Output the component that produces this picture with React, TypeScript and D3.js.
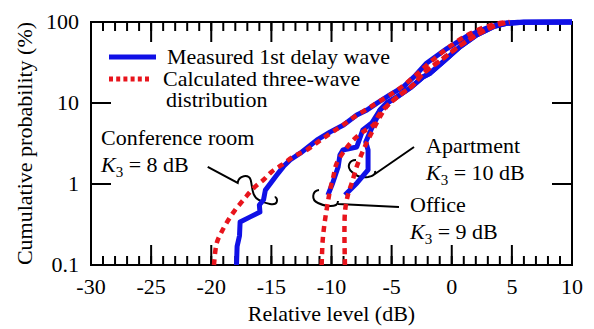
import * as d3 from 'd3';

// [relative level (dB), cumulative probability (%)]
type Pt = [number, number];

const conferenceMeasured: Pt[] = [
    [-17.9, 0.1], [-17.85, 0.17], [-17.65, 0.23], [-17.6, 0.34], [-16.8, 0.39],
    [-15.95, 0.45], [-16.0, 0.55], [-15.65, 0.64], [-15.5, 0.84], [-14.55, 1.29],
    [-14.0, 1.64], [-13.45, 1.98], [-12.6, 2.4], [-11.2, 3.5], [-10.1, 4.4],
    [-9.0, 5.35], [-7.9, 7.1], [-7.05, 8.2], [-6.25, 9.9], [-5.15, 12.6],
    [-4.0, 15.9], [-3.0, 22], [-2.1, 31], [-0.4, 47], [1.2, 66], [2.9, 84],
    [4.2, 96], [5.5, 99.5], [10, 100],
];

const conferenceCalculated: Pt[] = [
    [-19.77, 0.1], [-19.55, 0.185], [-19.13, 0.258], [-18.58, 0.359], [-18.02, 0.477],
    [-17.33, 0.635], [-16.5, 0.885], [-15.67, 1.12], [-14.97, 1.42], [-14.14, 1.72],
    [-13.18, 2.17], [-12.06, 2.63], [-11, 3.4], [-10, 4.3], [-9, 5.4], [-8, 6.9],
    [-7, 8.5], [-6, 10.5], [-5, 13], [-4, 16.5], [-3, 22], [-2, 30], [-1, 40],
    [0, 52], [1, 65], [2, 78], [3, 89], [4, 97], [4.8, 100],
];

const officeMeasured: Pt[] = [
    [-10.3, 0.73], [-9.9, 1.03], [-9.45, 1.62], [-9.3, 2.28], [-9.05, 2.63],
    [-7.9, 2.86], [-7.4, 4.64], [-6.65, 5.66], [-5.97, 8.2], [-5.4, 10],
    [-4.55, 11.9], [-3.47, 15.3], [-2.4, 20.9], [-1.8, 23.3], [-0.7, 32.4],
    [0.7, 49.5], [2.07, 69], [3.46, 87.5], [4.57, 96.4], [6, 99.5], [10, 100],
];

const officeCalculated: Pt[] = [
    [-10.82, 0.1], [-10.73, 0.204], [-10.54, 0.359], [-10.27, 0.635], [-10.12, 0.843],
    [-9.85, 1.23], [-9.57, 1.8], [-8.88, 2.63], [-8.19, 3.49], [-7.36, 4.42],
    [-6.52, 5.35], [-5.97, 7.46], [-5.14, 9.92], [-4.3, 12.6], [-3.2, 16.7],
    [-2.36, 23.3], [-1, 33], [0, 43], [1, 55], [2, 68], [3, 82], [4, 94], [4.8, 100],
];

const apartmentMeasured: Pt[] = [
    [-8.88, 0.73], [-7.88, 1.03], [-6.96, 1.49], [-6.96, 2.63], [-7.15, 3.3],
    [-6.65, 4.9], [-6.2, 6.7], [-5.97, 8.2], [-5.4, 10], [-4.55, 11.9],
    [-3.47, 15.3], [-2.4, 20.9], [-1.8, 23.3], [-0.7, 32.4], [0.7, 49.5],
    [2.07, 69], [3.46, 87.5], [4.57, 96.4], [6, 99.5], [10, 100],
];

const apartmentCalculated: Pt[] = [
    [-8.88, 0.1], [-8.88, 0.45], [-8.6, 0.768], [-8.32, 1.02], [-7.9, 1.64],
    [-7.35, 2.63], [-6.8, 3.91], [-6.11, 6.17], [-5.38, 9.18], [-4.3, 12.6],
    [-3.2, 16.7], [-2.36, 23.3], [-1, 33], [0, 43], [1, 55], [2, 68], [3, 82],
    [4, 94], [4.8, 100],
];

const measuredSeries = [conferenceMeasured, officeMeasured, apartmentMeasured];
const calculatedSeries = [conferenceCalculated, officeCalculated, apartmentCalculated];

const xMajorTicks = [-30, -25, -20, -15, -10, -5, 0, 5, 10];
const xMinorTicks = d3.range(-30, 11, 1);
const yTicks = [0.1, 1, 10, 100];

const legendLabels = ['Measured 1st delay wave', 'Calculated three-wave', 'distribution'];

// group labels: name, K3 value, anchor of the loop mark in data units
const groups = [
    { name: 'Conference room', k: '8', at: [-17.8, 1.03] as Pt, tx: 101, ty: 145,
      mark: 'M-30,-16 L0,0 C1,-8 11,-9 13,-3 C15,5 14,13 21,17 C28,21 38,23 39,19 C40,16 38,14 37,14' },
    { name: 'Apartment', k: '10', at: [-7.96, 1.98] as Pt, tx: 426, ty: 153,
      mark: 'M0,0 C-7,0 -10,7 -4,12 C0,16 6,18 12,17 C17,16 20,14 19,11 M16,16 L58,-13' },
    { name: 'Office', k: '9', at: [-11.04, 0.843] as Pt, tx: 410, ty: 212,
      mark: 'M0,0 C-7,1 -8,10 -1,13 C5,16 13,17 17,15 C19,14 19,12 19,11 M19,14 L80,17' },
];

const BLUE = '#1010e6';
const RED = '#e8141c';
const TXT = { fontFamily: 'Liberation Serif', fontSize: 22 };

const width = 594;
const height = 329;
const margin = { top: 22, right: 22, bottom: 64, left: 91 };

export default function App() {
    const x = d3.scaleLinear()
        .domain([-30, 10])
        .range([margin.left, width - margin.right]);

    const y = d3.scaleLog()
        .domain([0.1, 100])
        .range([height - margin.bottom, margin.top]);

    const top = margin.top;
    const bottom = height - margin.bottom;
    const left = margin.left;
    const right = width - margin.right;

    const lineMeasured = d3.line<Pt>()
        .x(d => x(d[0]))
        .y(d => y(d[1]));

    const lineCalc = d3.line<Pt>()
        .x(d => x(d[0]))
        .y(d => y(d[1]))
        .curve(d3.curveCatmullRom.alpha(0.5));

    return (
        <svg width={width} height={height} style={{ position: 'absolute', left: 0, top: 0, background: '#fff' }}>
            {/* ticks, pointing inwards */}
            <g stroke="#000" strokeWidth={2}>
                {xMinorTicks.map(t => (
                    <g key={'m' + t}>
                        <line x1={x(t)} x2={x(t)} y1={bottom} y2={bottom - 9} />
                        <line x1={x(t)} x2={x(t)} y1={top} y2={top + 9} />
                    </g>
                ))}
                {xMajorTicks.map(t => (
                    <g key={'M' + t}>
                        <line x1={x(t)} x2={x(t)} y1={bottom} y2={bottom - 20} />
                        <line x1={x(t)} x2={x(t)} y1={top} y2={top + 20} />
                    </g>
                ))}
                {yTicks.map(t => (
                    <g key={'y' + t}>
                        <line x1={left} x2={left + 20} y1={y(t)} y2={y(t)} />
                        <line x1={right} x2={right - 20} y1={y(t)} y2={y(t)} />
                    </g>
                ))}
                <rect x={left} y={top} width={right - left} height={bottom - top} fill="none" />
            </g>

            {xMajorTicks.map(t => (
                <text key={'xl' + t} x={x(t)} y={294} textAnchor="middle" style={TXT}>{t}</text>
            ))}
            {yTicks.map(t => (
                <text key={'yl' + t} x={left - 12} y={y(t)} dy="0.34em" textAnchor="end" style={TXT}>{String(t)}</text>
            ))}

            <text x={(left + right) / 2} y={321} textAnchor="middle" style={TXT}>Relative level (dB)</text>
            <text transform={`translate(32,${(top + bottom) / 2}) rotate(-90)`} textAnchor="middle" style={TXT}>
                Cumulative probability (%)
            </text>

            {/* loop marks go under the curves */}
            {groups.map(gr => (
                <path key={'mk' + gr.name} transform={`translate(${x(gr.at[0])},${y(gr.at[1])})`} d={gr.mark}
                    fill="none" stroke="#000" strokeWidth={2} />
            ))}

            {measuredSeries.map((s, i) => (
                <path key={'ms' + i} d={lineMeasured(s) ?? ''} fill="none" stroke={BLUE} strokeWidth={5} strokeLinejoin="round" />
            ))}
            {calculatedSeries.map((s, i) => (
                <path key={'cs' + i} d={lineCalc(s) ?? ''} fill="none" stroke={RED} strokeWidth={4.5} strokeDasharray="6,5" />
            ))}

            {groups.map(gr => (
                <g key={'lb' + gr.name}>
                    <text x={gr.tx} y={gr.ty} style={TXT}>{gr.name}</text>
                    <text x={gr.tx} y={gr.ty + 27} style={TXT}>
                        <tspan style={{ fontStyle: 'italic' }}>K</tspan>
                        <tspan dy={5} style={{ fontSize: 15 }}>3</tspan>
                        <tspan dy={-5}>{` = ${gr.k} dB`}</tspan>
                    </text>
                </g>
            ))}

            {/* legend */}
            <line x1={109} x2={156} y1={57} y2={57} stroke={BLUE} strokeWidth={5} />
            <line x1={109} x2={151} y1={79} y2={79} stroke={RED} strokeWidth={5} strokeDasharray="4,3.2" />
            <text x={167} y={64} style={TXT}>{legendLabels[0]}</text>
            <text x={163} y={86} style={TXT}>{legendLabels[1]}</text>
            <text x={166} y={107} style={TXT}>{legendLabels[2]}</text>
        </svg>
    );
}
